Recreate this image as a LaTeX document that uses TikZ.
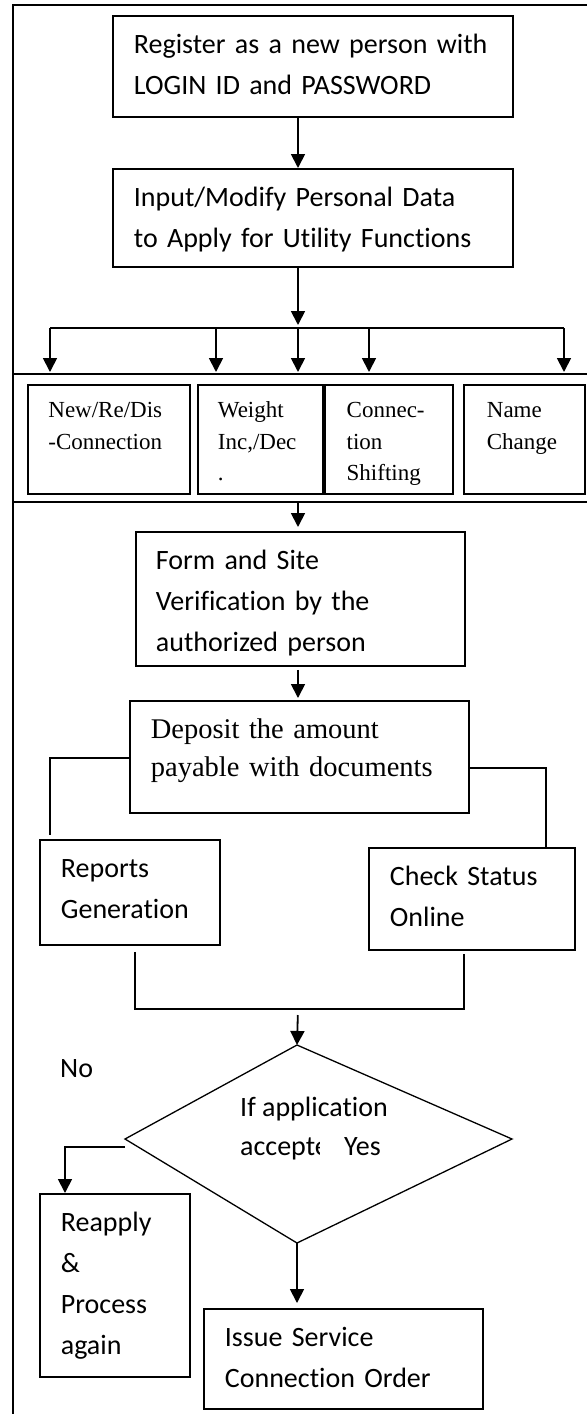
\documentclass[tikz,border=0pt]{standalone}
\usepackage{fontspec}
\setmainfont{Carlito}[Ligatures=CommonOff]
\newfontfamily\timesfont{Liberation Serif}[Ligatures=CommonOff]
\usetikzlibrary{arrows.meta}
\hyphenpenalty=10000
\exhyphenpenalty=10000

\begin{document}
\begin{tikzpicture}[
  x=1pt, y=-1pt,
  font=\fontsize{28}{41}\selectfont,
  box/.style={draw, line width=1.8pt, anchor=north west, align=left,
              inner ysep=0pt, text height=38pt},
  opt/.style={box, font=\timesfont\fontsize{23}{31.5}\selectfont,
              text height=33pt, text depth=76pt},
  txt/.style={anchor=base west, inner sep=0pt},
  link/.style={line width=1.3pt},
  ar/.style={-{Triangle[length=14pt,width=14pt]}, line width=1.8pt}
]
\fill[white] (0,0) rectangle (587,1414);
\useasboundingbox (0,0) rectangle (587,1414);

% outer frame and the band round the options
\draw[link] (13,1414) -- (13,5) -- (587,5);
\coordinate (bandTL) at (13,374);  \coordinate (bandTR) at (587,374);
\coordinate (bandBL) at (13,502);  \coordinate (bandBR) at (587,502);
\draw[link, line width=1.6pt] (bandTL) -- (bandTR);
\draw[link, line width=1.6pt] (bandBL) -- (bandBR);

\node[box, inner xsep=21pt, text width=358pt, text depth=63pt] (reg) at (112,15)
  {Register as a new person with\\LOGIN ID and PASSWORD};
\node[box, inner xsep=21pt, text width=358pt, text depth=60pt] (inp) at (112,168)
  {Input/Modify Personal Data\\to Apply for Utility Functions};

\coordinate (spine) at (298,328);
\draw[ar] (reg.south -| spine) -- (inp.north -| spine);
\draw[ar, shorten >=3pt] (inp.south -| spine) -- (spine);

% fan out to the utility functions
\coordinate (fanL) at (50,328);
\coordinate (fanR) at (564,328);
\draw[line width=1.8pt] (fanL) -- (fanR);
\foreach \x in {50,216,298,369,564}
  \draw[ar, shorten >=2pt] (\x,0 |- fanL) -- (\x,0 |- bandTL);

\node[opt, inner xsep=20.5pt, text width=121pt] (ndc) at (27,384) {New/Re/Dis\\-Connection};
\node[opt, inner xsep=20pt, text width=85pt] (wgt) at (197,384) {Weight\\Inc,/Dec\\.};
\node[opt, inner xsep=22pt, text width=84pt] (shf) at (wgt.north east) {Connec-\\tion\\Shifting};
\node[opt, inner xsep=23pt, text width=75pt] (nam) at (463,384) {Name\\Change};

\node[box, inner xsep=20pt, text width=289pt, text depth=96pt] (form) at (135,531)
  {Form and Site\\Verification by the\\authorized person};
\draw[ar, shorten >=4pt] (spine |- bandBL) -- (form.north -| spine);

\node[box, font=\timesfont\fontsize{28.5}{38}\selectfont, inner xsep=21pt,
      text width=297pt, text depth=74pt] (dep) at (129,700)
  {Deposit the amount\\payable with documents};
\draw[ar, shorten <=3pt, shorten >=2pt] (form.south -| spine) -- (dep.north -| spine);

\node[box, inner xsep=21pt, text width=138pt, text depth=67pt] (rep) at (39,839) {Reports\\Generation};
\node[box, inner xsep=21pt, text width=164pt, text depth=64pt] (chk) at (368,847) {Check Status\\Online};

\coordinate (dl) at (50,758);
\coordinate (dr) at (546,768);
\draw[link, shorten >=4pt] (dep.west |- dl) -- (dl) -- (rep.north -| dl);
\draw[link] (dep.east |- dr) -- (dr) -- (chk.north -| dr);

% both branches join again
\coordinate (ml) at (135,1009);
\coordinate (mr) at (464,1009);
\draw[link, shorten <=6pt, shorten >=3pt] (rep.south -| ml) -- (ml) -- (mr) -- (chk.south -| mr);

% decision
\coordinate (dtop) at (297,1045);
\coordinate (dleft) at (125,1139);
\coordinate (dright) at (512,1139);
\coordinate (dbot) at (297,1243);
\draw[link] (dtop) -- (dright) -- (dbot) -- (dleft) -- cycle;
\draw[ar, shorten <=6pt] (spine |- ml) -- (dtop);

\node[txt] (no) at (60,1077) {No};
\node[txt] (ifq) at (240,1116) {If application};
\begin{scope}
  \clip (230,1125) rectangle (319,1170);
  \node[txt] (acc) at (240,1155) {accepte};
\end{scope}
\node[txt] (yes) at (344,1155) {Yes};

\node[box, inner xsep=21pt, text width=108pt, text depth=145pt] (rea) at (39,1193)
  {Reapply\\\&\\Process\\again};
\node[box, inner xsep=21pt, text width=237pt, text depth=62pt] (iss) at (203,1308)
  {Issue Service\\Connection Order};

\coordinate (nl) at (65,1147);
\draw[ar] (dleft |- nl) -- (nl) -- (rea.north -| nl);
\draw[ar, shorten >=5pt] (dbot) -- (iss.north -| dbot);
\end{tikzpicture}
\end{document}
